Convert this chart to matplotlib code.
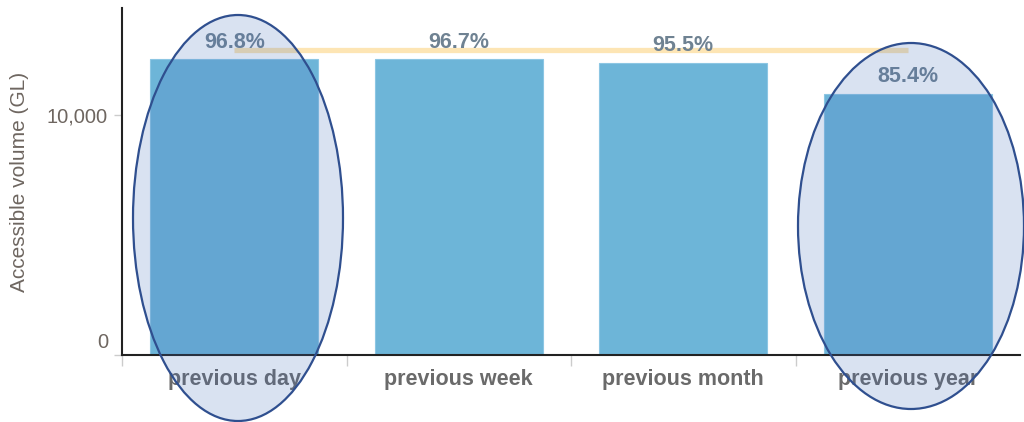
import matplotlib
matplotlib.use("Agg")
import matplotlib.pyplot as plt
from matplotlib.patches import Ellipse
import matplotlib.transforms as mtransforms

# ---- data ----
categories = ["previous day", "previous week", "previous month", "previous year"]
volumes = [12330, 12320, 12170, 10880]          # accessible volume (GL)
pct_labels = ["96.8%", "96.7%", "95.5%", "85.4%"]
capacity = 12710                                   # accessible capacity (GL)
yticks = [0, 10000]
ytick_labels = ["0", "10,000"]
ylabel = "Accessible volume (GL)"

plt.rcParams['font.family'] = ['Liberation Sans', 'DejaVu Sans']

W, H = 1024, 422
fig = plt.figure(figsize=(W / 100, H / 100), dpi=100)
ax = fig.add_axes([122 / W, (H - 355) / H, 898 / W, (355 - 8) / H])

x = list(range(len(categories)))
ax.bar(x, volumes, width=0.75, color="#6db5d8", edgecolor="#8cc6e3",
       linewidth=0.8, zorder=2)

# capacity line
ax.plot([x[0], x[-1]], [capacity, capacity], color="#fde5b4",
        linewidth=3.8, solid_capstyle="butt", zorder=3)

for xi, v, lab in zip(x, volumes, pct_labels):
    ax.annotate(lab, (xi, v), xytext=(0, 17), textcoords="offset pixels",
                ha="center", va="center", fontsize=15.5, fontweight="bold",
                color="#6f8292", zorder=4)

ax.set_xlim(-0.5, len(categories) - 0.5)
ax.set_ylim(0, 14460)

ax.set_yticks(yticks)
ax.set_yticklabels(ytick_labels, fontsize=14.5, color="#6e6660")
ax.tick_params(axis="y", length=6, width=1, color="#cccccc", pad=4)

# x ticks at category boundaries (minor), labels at centres (major)
ax.set_xticks(x)
ax.set_xticklabels(categories, fontsize=15.5, fontweight="bold", color="#6a6a6a")
ax.tick_params(axis="x", which="major", length=0, pad=10)
ax.set_xticks([i - 0.5 for i in x], minor=True)
ax.tick_params(axis="x", which="minor", length=8, width=1, color="#cccccc")

# shift the "0" label slightly upward like in the reference
lbl0 = ax.get_yticklabels()[0]
lbl0.set_transform(lbl0.get_transform() +
                   mtransforms.ScaledTranslation(0, 14 / 100, fig.dpi_scale_trans))

ax.set_ylabel(ylabel, fontsize=15, color="#6e6660")
ax.yaxis.set_label_coords((29 - 122) / 898, 0.5)

for s in ["top", "right"]:
    ax.spines[s].set_visible(False)
ax.spines["left"].set_linewidth(1.5)
ax.spines["bottom"].set_linewidth(1.5)
ax.spines["left"].set_color("#222222")
ax.spines["bottom"].set_color("#222222")

# highlight ellipses (figure coordinates)
for cx, cy, ew, eh in [(238, 218, 210, 406), (911, 226, 226, 366)]:
    e = Ellipse((cx / W, (H - cy) / H), ew / W, eh / H,
                transform=fig.transFigure, facecolor=(0.26, 0.43, 0.74, 0.2),
                edgecolor="#2f4f8f", linewidth=1.6, zorder=10)
    fig.add_artist(e)

fig.savefig("out.png", dpi=100)
